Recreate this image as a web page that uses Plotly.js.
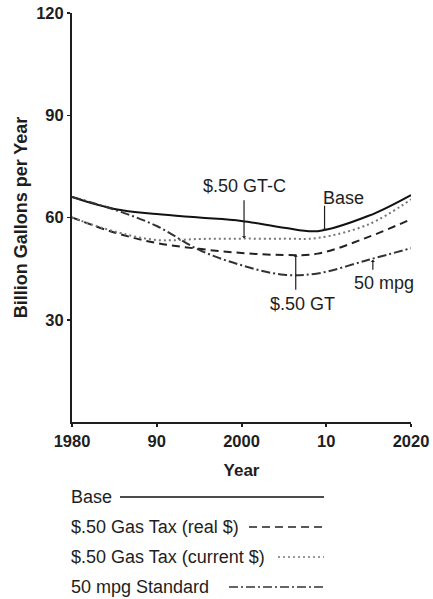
<!DOCTYPE html>
<html>
<head>
<meta charset="utf-8">
<script src="https://cdn.plot.ly/plotly-3.0.1.min.js"></script>
<style>
  html, body { margin: 0; padding: 0; background: #fff; }
  #chart { width: 433px; height: 599px; }
</style>
</head>
<body>
<div id="chart"></div>
<script>
// ---- data ----
const years      = [1980, 1985, 1990, 1995, 2000, 2005, 2009, 2015, 2020];
const base       = [66.0, 62.5, 61.0, 60.0, 59.0, 57.0, 56.0, 60.5, 66.6];
const gasTaxReal = [60.0, 55.6, 52.5, 50.8, 49.6, 49.0, 49.4, 54.3, 59.5];
const gasTaxCurr = [60.0, 55.9, 53.4, 53.7, 53.8, 53.8, 54.0, 58.0, 65.3];
const mpg50      = [66.0, 62.3, 57.5, 50.5, 46.0, 43.2, 43.6, 47.6, 51.0];

const seriesNames = ['Base', '$.50 Gas Tax (real $)', '$.50 Gas Tax (current $)', '50 mpg Standard'];
const xTickVals = [1980, 1990, 2000, 2010, 2020];
const xTickText = ['1980', '90', '2000', '10', '2020'];
const yTickVals = [30, 60, 90, 120];

// curve labels: [text, labelYear, labelValue, arrowYear, arrowValue, arrow pixel offset]
const curveLabels = [
  ['$.50 GT-C', 2000.4, 69.2, 2000.3, 53.9, -40],
  ['Base',      2012.0, 65.7, 2009.8, 56.1, -27],
  ['$.50 GT',   2007.2, 34.6, 2006.4, 49.1, 37],
  ['50 mpg',    2016.8, 40.8, 2015.5, 47.6, 12]
];

// ---- styles ----
const FONT = 'Liberation Sans, Arial, Helvetica, sans-serif';
const INK = '#1e1e1e';
const styles = [
  {color: '#111', width: 2, dash: 'solid'},
  {color: '#222', width: 2, dash: '8px,5px'},
  {color: '#777', width: 2, dash: '2px,3px'},
  {color: '#333', width: 2, dash: '9px,3px,2px,3px'}
];
const seriesData = [base, gasTaxReal, gasTaxCurr, mpg50];

const traces = seriesData.map((vals, i) => ({
  type: 'scatter', mode: 'lines', name: seriesNames[i],
  x: years, y: vals,
  line: {color: styles[i].color, width: styles[i].width, dash: styles[i].dash, shape: 'spline', smoothing: 1},
  hoverinfo: 'skip'
}));

const annotations = [];
curveLabels.forEach(([t, lx, ly, hx, hy, ay]) => {
  annotations.push({x: lx, y: ly, xref: 'x', yref: 'y', text: t, showarrow: false,
    font: {family: FONT, size: 18, color: INK}, xanchor: 'center', yanchor: 'middle'});
  annotations.push({x: hx, y: hy, xref: 'x', yref: 'y', showarrow: true, ax: 0, ay: ay,
    arrowhead: 1, arrowsize: 0.6, arrowwidth: 1.2, arrowcolor: INK, font: {size: 1}});
});

// legend (text on the left, sample line on the right), placed in paper coordinates
const plotTop = 13, plotBottom = 422, plotLeft = 72, plotRight = 411;
const px2paperY = Y => (plotBottom - Y) / (plotBottom - plotTop);
const px2paperX = X => (X - plotLeft) / (plotRight - plotLeft);
const legendRowsY = [497, 527, 557, 587];
const legendLineStart = [120, 249, 278, 229];
const legendLineEnd = 324;
const shapes = [];
seriesNames.forEach((n, i) => {
  annotations.push({x: px2paperX(69), y: px2paperY(legendRowsY[i]), xref: 'paper', yref: 'paper',
    text: n, showarrow: false, xanchor: 'left', yanchor: 'middle',
    font: {family: FONT, size: 18, color: INK}});
  shapes.push({type: 'line', xref: 'paper', yref: 'paper',
    x0: px2paperX(legendLineStart[i]), x1: px2paperX(legendLineEnd),
    y0: px2paperY(legendRowsY[i]), y1: px2paperY(legendRowsY[i]),
    line: {color: styles[i].color, width: 1.6, dash: styles[i].dash}});
});

const layout = {
  width: 433, height: 599,
  margin: {l: plotLeft, r: 433 - plotRight, t: plotTop, b: 599 - plotBottom},
  paper_bgcolor: '#fff', plot_bgcolor: '#fff',
  showlegend: false,
  font: {family: FONT, color: INK},
  xaxis: {
    range: [1980, 2020], tickvals: xTickVals, ticktext: xTickText,
    showgrid: false, zeroline: false, showline: true, linecolor: INK, linewidth: 2,
    ticks: 'outside', ticklen: 3, tickwidth: 2, tickcolor: INK,
    tickfont: {family: FONT, size: 16.5, weight: 'bold', color: INK},
    title: {text: 'Year', font: {family: FONT, size: 17, weight: 'bold', color: INK}, standoff: 15}
  },
  yaxis: {
    range: [0, 120], tickvals: yTickVals,
    showgrid: false, zeroline: false, showline: true, linecolor: INK, linewidth: 2,
    ticks: 'outside', ticklen: 3, tickwidth: 1.5, tickcolor: INK,
    tickfont: {family: FONT, size: 16.5, weight: 'bold', color: INK},
    title: {text: 'Billion Gallons per Year', font: {family: FONT, size: 18, weight: 'bold', color: INK}, standoff: 4}
  },
  annotations: annotations,
  shapes: shapes
};

Plotly.newPlot('chart', traces, layout, {staticPlot: true, displayModeBar: false});
</script>
</body>
</html>
